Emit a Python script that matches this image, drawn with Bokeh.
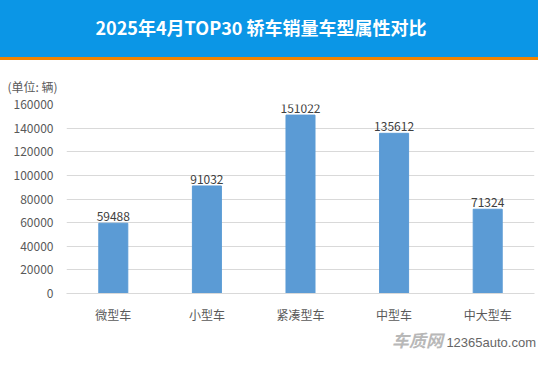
from bokeh.plotting import figure
from bokeh.models import Range1d, FactorRange, ColumnDataSource, LabelSet, Title, FixedTicker, NumeralTickFormatter, Div
from bokeh.layouts import column
from bokeh.core.properties import value
from bokeh.embed import file_html
from bokeh.resources import INLINE

title_text = "2025年4月TOP30 轿车销量车型属性对比"
unit_text = "(单位: 辆)"
brand_text = "车质网"
site_text = "12365auto.com"
categories = ["微型车", "小型车", "紧凑型车", "中型车", "中大型车"]
sales = [59488, 91032, 151022, 135612, 71324]
y_ticks = [0, 20000, 40000, 60000, 80000, 100000, 120000, 140000, 160000]

FONT = "Noto Sans CJK SC"
W = 538

header = Div(
    text=(f'<div style="width:{W}px;height:60px;box-sizing:border-box;background:#0B96E6;'
          'border-bottom:3px solid #F08300;color:#FFFFFF;font-family:\'Noto Sans CJK SC\';'
          'font-weight:bold;font-size:18px;display:flex;align-items:center;'
          'justify-content:center;padding-right:16px;padding-bottom:2px;white-space:nowrap;">'
          f'{title_text}</div>'),
    width=W, height=60, styles={"margin": "0", "padding": "0"})

src = ColumnDataSource(dict(cat=categories, val=sales, lab=[str(v) for v in sales]))
p = figure(width=W, height=270, x_range=FactorRange(*categories, range_padding=0),
           y_range=Range1d(0, 160000), toolbar_location=None, output_backend="svg",
           min_border_top=44, min_border_bottom=37, min_border_left=66, min_border_right=4)
p.outline_line_color = None
p.vbar(x="cat", top="val", width=0.31, color="#5B9BD5", source=src)
p.add_layout(LabelSet(x="cat", y="val", text="lab", source=src, text_align="center",
                      text_baseline="bottom", y_offset=2, text_font=value(FONT),
                      text_font_size="12px", text_color="#404040"))

p.add_layout(Title(text=unit_text, align="left", offset=-59, standoff=19,
                   text_font=FONT, text_font_size="12px", text_color="#595959",
                   text_font_style="normal"), "above")

p.xgrid.visible = False
p.ygrid.grid_line_color = "#D9D9D9"
p.ygrid.grid_line_width = 1
p.yaxis.ticker = FixedTicker(ticks=y_ticks)
p.yaxis.formatter = NumeralTickFormatter(format="0")
p.yaxis.axis_line_color = None
p.yaxis.major_tick_line_color = None
p.yaxis.minor_tick_line_color = None
p.yaxis.major_tick_out = 0
p.yaxis.major_tick_in = 0
p.yaxis.major_label_standoff = 13
p.xaxis.axis_line_color = "#D9D9D9"
p.xaxis.major_tick_line_color = None
p.xaxis.minor_tick_line_color = None
p.xaxis.major_tick_out = 0
p.xaxis.major_tick_in = 0
p.xaxis.major_label_standoff = 12
for ax in (p.xaxis, p.yaxis):
    ax.major_label_text_font = FONT
    ax.major_label_text_font_size = "12px"
    ax.major_label_text_color = "#595959"
    ax.major_label_text_font_style = "normal"

footer = Div(
    text=(f'<div style="width:{W}px;height:19px;box-sizing:border-box;padding-right:2px;'
          'text-align:right;white-space:nowrap;line-height:19px;">'
          '<span style="color:#B8B8B8;font-family:\'Noto Sans CJK SC\';font-weight:bold;'
          f'font-style:italic;font-size:17px;">{brand_text}</span> '
          '<span style="color:#666666;font-family:\'Liberation Sans\';font-size:13px;">'
          f'{site_text}</span></div>'),
    width=W, height=19, styles={"margin": "0", "padding": "0"})

layout = column(header, p, footer, spacing=0)
open("out.html", "w").write(file_html(layout, INLINE))
